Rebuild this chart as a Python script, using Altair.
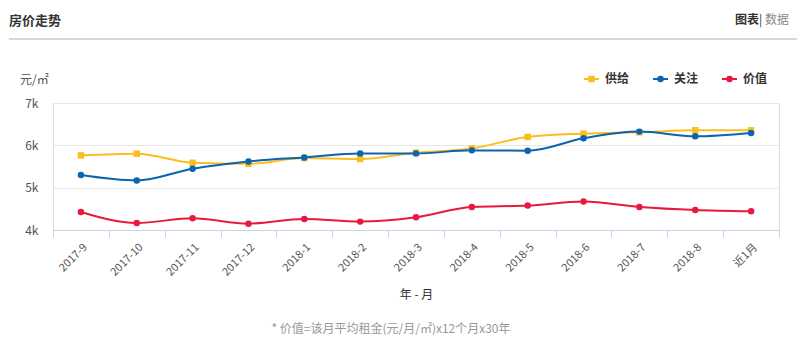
import altair as alt
import pandas as pd

months = ["2017-9", "2017-10", "2017-11", "2017-12", "2018-1", "2018-2", "2018-3",
          "2018-4", "2018-5", "2018-6", "2018-7", "2018-8", "近1月"]
supply = [5762, 5802, 5589, 5565, 5700, 5676, 5826, 5928, 6198, 6276, 6308, 6355, 6355]
attention = [5297, 5169, 5447, 5620, 5715, 5810, 5810, 5881, 5873, 6166, 6324, 6213, 6292]
value = [4427, 4166, 4277, 4150, 4261, 4198, 4300, 4545, 4577, 4672, 4545, 4474, 4443]

series_names = ["供给", "关注", "价值"]
series_colors = ["#FBBE1E", "#0A64AF", "#E8193C"]
series_shapes = ["square", "circle", "circle"]

FONT = "Noto Sans CJK SC"

rows = []
for name, vals in zip(series_names, [supply, attention, value]):
    for m, v in zip(months, vals):
        rows.append({"month": m, "series": name, "price": v})
df = pd.DataFrame(rows)

x_enc = alt.X("month:N", sort=months,
              scale=alt.Scale(type="band", paddingInner=0, paddingOuter=0),
              axis=alt.Axis(title="年 - 月", labelAngle=-45, labelFontSize=11,
                            labelColor="#555", labelFont=FONT, labelPadding=4,
                            titleFont=FONT, titleFontSize=12, titleFontWeight="normal",
                            titleColor="#333", titlePadding=12,
                            domainColor="#c6d3e8", tickColor="#c6d3e8", tickSize=7,
                            tickBand="extent", grid=False))
y_enc = alt.Y("price:Q", scale=alt.Scale(domain=[4000, 7000], nice=False, zero=False),
              axis=alt.Axis(title=None, values=[4000, 5000, 6000, 7000], format="~s",
                            domain=False, ticks=False, labelPadding=15,
                            labelFontSize=12, labelColor="#555", labelFont=FONT,
                            gridColor="#e6e6e6"))
color_enc = alt.Color("series:N", scale=alt.Scale(domain=series_names, range=series_colors),
                      legend=None)
shape_enc = alt.Shape("series:N", scale=alt.Scale(domain=series_names, range=series_shapes),
                      legend=None)

base = alt.Chart(df)
lines = base.mark_line(interpolate="monotone", strokeWidth=2).encode(
    x=x_enc, y=y_enc, color=color_enc, detail="series:N")
points = base.mark_point(filled=True, size=42, opacity=1).encode(
    x=x_enc, y=y_enc, color=color_enc, shape=shape_enc)

one = pd.DataFrame({"a": [0]})


def txt(text, x, y, size=12, color="#333", weight="normal", align="left"):
    return alt.Chart(one).mark_text(text=text, align=align, baseline="middle",
                                    fontSize=size, color=color, fontWeight=weight,
                                    font=FONT).encode(x=alt.value(x), y=alt.value(y))


layers = [lines, points]
layers.append(txt("房价走势", -44, -82, size=13, weight="bold"))
layers.append(alt.Chart(one).mark_rule(color="#d3d6e3", strokeWidth=2).encode(
    x=alt.value(-44), x2=alt.value(744), y=alt.value(-64)))
layers.append(txt("图表", 682, -83, weight="bold"))
layers.append(txt("|", 706, -83, color="#333"))
layers.append(txt("数据", 712, -83, color="#888"))
layers.append(txt("元/㎡", -33, -23, color="#555"))

leg_x = [531, 600, 669]
for name, col, shp, lx in zip(series_names, series_colors, series_shapes, leg_x):
    layers.append(alt.Chart(one).mark_rule(color=col, strokeWidth=2).encode(
        x=alt.value(lx), x2=alt.value(lx + 15), y=alt.value(-24)))
    layers.append(alt.Chart(one).mark_point(filled=True, size=42, shape=shp, color=col,
                                            opacity=1).encode(
        x=alt.value(lx + 7.5), y=alt.value(-24)))
    layers.append(txt(name, lx + 21, -24, weight="bold"))

layers.append(txt("* 价值=该月平均租金(元/月/㎡)x12个月x30年", 338, 226,
                  color="#999", align="center"))

chart = alt.layer(*layers).properties(
    width=726, height=127,
    autosize=alt.AutoSizeParams(type="none"),
    padding={"left": 53, "top": 103, "right": 18, "bottom": 112},
).configure_view(stroke=None).configure(background="white")

chart.save("out.html", embed_options={"renderer": "svg", "actions": False})
